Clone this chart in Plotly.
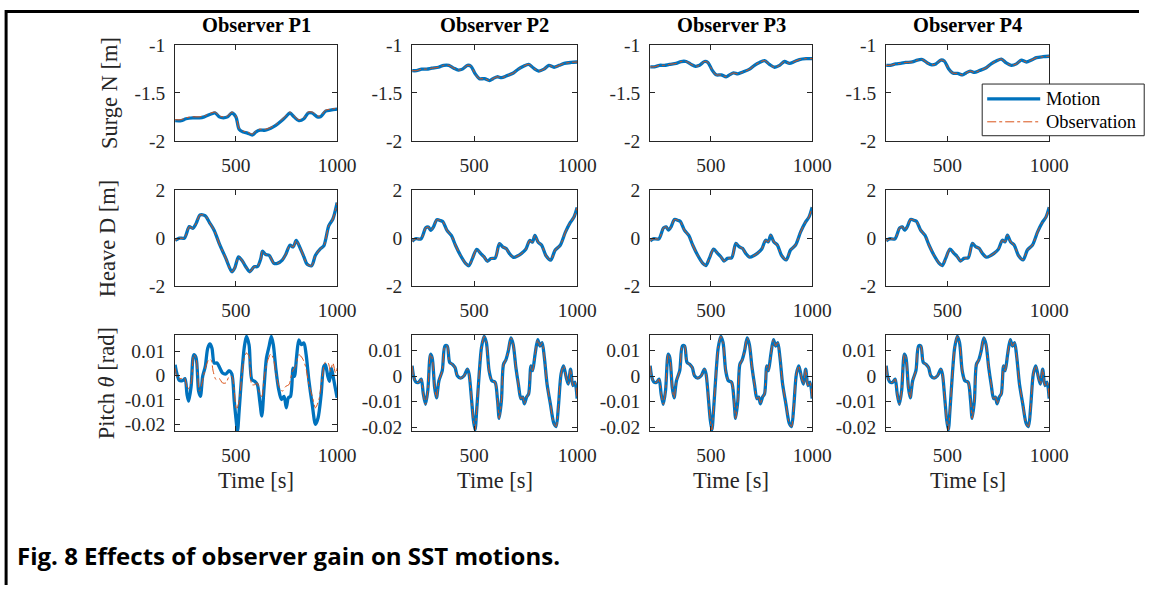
import plotly.graph_objects as go

# The photographed page maps figure pixels to picture pixels as
#   picture_x = OX + SX * fig_x,   picture_y = OY + SY * fig_y
# so every position below is given in picture (reference) pixels and converted.
SX, SY, OX, OY = 0.9835, 0.9707, 0.9, 6.5
W, H = 1158, 596
FS = 1 / 0.977  # font compensation for the page scaling


def px(sx):
    return ((sx - OX) / SX) / W


def py(sy):
    return 1 - ((sy - OY) / SY) / H


# ---------------- data ----------------
observers = ["Observer P1", "Observer P2", "Observer P3", "Observer P4"]
row_titles = ["Surge N [m]", "Heave D [m]", "Pitch <i>θ</i> [rad]"]

# Surge, observer P1
t_surge1 = [200, 230, 254, 287, 320, 344, 377, 398, 418, 438, 459, 480, 500, 516, 536, 557, 582,
            598, 618, 631, 647, 672, 697, 721, 746, 767, 787, 811, 836, 857, 877, 902, 918, 943, 967, 1000]
surge1_motion = [-1.79, -1.79, -1.77, -1.76, -1.76, -1.75, -1.72, -1.71, -1.75, -1.76, -1.75, -1.71,
                 -1.75, -1.88, -1.91, -1.92, -1.94, -1.91, -1.89, -1.89, -1.89, -1.87, -1.84, -1.80,
                 -1.75, -1.71, -1.75, -1.79, -1.77, -1.71, -1.71, -1.75, -1.75, -1.69, -1.68, -1.67]
surge1_obs = [-1.78, -1.78, -1.76, -1.75, -1.75, -1.74, -1.71, -1.70, -1.74, -1.75, -1.74, -1.70,
              -1.74, -1.87, -1.90, -1.91, -1.93, -1.90, -1.88, -1.88, -1.88, -1.86, -1.83, -1.79,
              -1.74, -1.70, -1.74, -1.78, -1.76, -1.70, -1.70, -1.74, -1.74, -1.68, -1.67, -1.66]

# Surge, observers P2-P4
t_surge = [200, 221, 246, 271, 295, 328, 353, 378, 402, 424, 444, 468, 485, 506, 526, 551, 575,
           592, 612, 633, 658, 691, 715, 740, 765, 789, 814, 839, 863, 888, 913, 937, 970, 1000]
surge2 = [-1.266, -1.266, -1.25, -1.25, -1.24, -1.23, -1.21, -1.21, -1.24, -1.26, -1.25, -1.21,
          -1.22, -1.30, -1.35, -1.35, -1.37, -1.35, -1.33, -1.34, -1.32, -1.29, -1.25, -1.22,
          -1.20, -1.24, -1.27, -1.25, -1.21, -1.23, -1.21, -1.19, -1.18, -1.175]
surge3 = [-1.226, -1.226, -1.21, -1.21, -1.20, -1.19, -1.17, -1.17, -1.20, -1.22, -1.21, -1.17,
          -1.18, -1.26, -1.31, -1.31, -1.33, -1.31, -1.29, -1.30, -1.28, -1.25, -1.21, -1.18,
          -1.16, -1.20, -1.23, -1.21, -1.17, -1.19, -1.17, -1.15, -1.14, -1.14]
surge4 = [-1.21, -1.21, -1.195, -1.19, -1.18, -1.175, -1.155, -1.15, -1.185, -1.205, -1.195, -1.155,
          -1.165, -1.245, -1.29, -1.295, -1.31, -1.29, -1.27, -1.285, -1.265, -1.235, -1.195, -1.165,
          -1.145, -1.185, -1.21, -1.195, -1.155, -1.175, -1.155, -1.13, -1.12, -1.115]

# Heave, observer P1
t_heave1 = [200, 221, 246, 270, 287, 303, 323, 348, 369, 393, 418, 451, 480, 495, 513, 533, 549, 569,
            590, 606, 623, 631, 647, 664, 688, 705, 729, 746, 767, 783, 798, 815, 836, 852, 874, 893,
            918, 934, 959, 979, 1000]
heave1 = [-0.10, 0.00, 0.00, 0.48, 0.41, 0.60, 0.97, 0.94, 0.66, 0.32, -0.23, -0.86, -1.41, -1.24,
          -0.79, -0.97, -1.20, -1.41, -1.20, -1.20, -0.86, -0.55, -0.69, -0.72, -1.06, -1.06, -0.92,
          -0.69, -0.30, -0.37, -0.10, -0.37, -0.79, -1.10, -1.16, -0.72, -0.44, -0.33, 0.52, 0.80, 1.49]

# Heave, observers P2-P4
t_heave = [200, 216, 243, 266, 279, 290, 303, 320, 339, 349, 369, 390, 410, 434, 459, 475, 492, 513,
           533, 549, 565, 582, 603, 623, 639, 656, 672, 692, 713, 729, 751, 770, 783, 795, 811, 828,
           849, 872, 893, 918, 943, 967, 984, 1000]
heave2 = [-0.14, -0.03, -0.03, 0.43, 0.46, 0.32, 0.46, 0.77, 0.73, 0.69, 0.32, 0.11, -0.30, -0.72,
          -1.06, -1.16, -0.86, -0.47, -0.65, -0.79, -0.97, -0.86, -0.83, -0.23, -0.37, -0.44, -0.65,
          -0.81, -0.74, -0.65, -0.47, -0.10, -0.17, 0.11, -0.17, -0.30, -0.74, -0.92, -0.51, -0.30,
          0.25, 0.66, 0.87, 1.28]
heave3 = [-0.12, -0.03, -0.03, 0.43, 0.47, 0.33, 0.47, 0.78, 0.74, 0.70, 0.33, 0.12, -0.29, -0.71,
          -1.05, -1.15, -0.85, -0.46, -0.64, -0.78, -0.96, -0.85, -0.82, -0.22, -0.36, -0.43, -0.64,
          -0.80, -0.73, -0.64, -0.46, -0.09, -0.16, 0.12, -0.16, -0.29, -0.73, -0.91, -0.50, -0.29,
          0.26, 0.67, 0.88, 1.30]
heave4 = heave3

# Pitch, observer P1
t_pitch1 = [200, 208, 221, 238, 249, 259, 267, 279, 292, 303, 316, 325, 336, 349, 361, 372, 382, 393,
            407, 421, 434, 451, 467, 480, 492, 500, 508, 516, 529, 541, 552, 565, 579, 593, 606, 618,
            628, 639, 651, 664, 675, 685, 697, 710, 725, 738, 749, 759, 770, 782, 790, 800, 811, 823,
            836, 847, 861, 877, 893, 906, 921, 934, 942, 954, 962, 972, 983, 1000]
pitch1_motion = [0.0045, 0.0011, -0.0020, -0.0020, -0.0012, -0.0078, -0.0105, -0.0044, 0.0086,
                 0.0075, -0.0064, -0.0085, -0.0003, 0.0038, 0.0113, 0.0130, 0.0113, 0.0052, 0.0052,
                 0.0031, 0.0011, 0.0007, 0.0020, 0.0007, -0.0105, -0.0173, -0.0228, -0.0146, 0.0004,
                 0.0113, 0.0161, 0.0127, -0.0016, -0.0023, -0.0037, -0.0105, -0.0166, -0.0050, 0.0072,
                 0.0120, 0.0161, 0.0127, 0.0031, -0.0050, -0.0098, -0.0085, -0.0132, -0.0091, -0.0085,
                 0.0031, -0.0003, 0.0079, 0.0147, 0.0127, 0.0134, 0.0086, -0.0023, -0.0119, -0.0200,
                 -0.0173, -0.0078, 0.0038, 0.0045, -0.0003, -0.0023, 0.0031, -0.0016, -0.0091]
t_pitch1_obs = [200, 213, 229, 246, 262, 279, 292, 303, 320, 333, 349, 366, 377, 388, 402, 418, 434,
                451, 467, 480, 492, 503, 516, 529, 541, 552, 565, 579, 593, 606, 618, 628, 639, 656,
                672, 685, 697, 713, 729, 746, 762, 779, 795, 811, 828, 844, 861, 877, 893, 910, 926,
                942, 956, 967, 979, 992, 1000]
pitch1_obs = [0.0031, -0.0012, -0.0012, -0.0010, -0.0057, -0.0030, 0.0086, 0.0072, -0.0064, -0.0030,
              0.0031, 0.0065, 0.0065, 0.0018, -0.0016, -0.0012, -0.0030, -0.0030, -0.0003, -0.0003,
              -0.0064, -0.0139, -0.0105, -0.0003, 0.0072, 0.0093, 0.0079, -0.0037, -0.0037, -0.0030,
              -0.0078, -0.0085, -0.0010, 0.0059, 0.0089, 0.0072, 0.0011, -0.0044, -0.0064, -0.0044,
              -0.0037, 0.0018, 0.0038, 0.0086, 0.0072, 0.0038, -0.0037, -0.0085, -0.0132, -0.0098,
              -0.0010, 0.0056, 0.0052, 0.0018, 0.0052, 0.0011, 0.0031]

# Pitch, observers P2-P4
t_pitch = [200, 208, 219, 232, 244, 254, 265, 276, 289, 297, 309, 318, 330, 346, 359, 370, 382, 395,
           408, 419, 435, 452, 468, 476, 487, 497, 505, 513, 525, 536, 549, 560, 573, 586, 602, 614,
           622, 633, 643, 654, 666, 679, 690, 703, 716, 727, 736, 744, 755, 765, 776, 784, 796, 809,
           820, 830, 841, 854, 870, 887, 898, 909, 922, 934, 947, 957, 968, 979, 989, 1000]
pitch2 = [0.0040, -0.0005, -0.0024, -0.0024, -0.0012, -0.0069, -0.0110, -0.0056, 0.0085, 0.0072,
          -0.0044, -0.0085, -0.0018, 0.0021, 0.0117, 0.0117, 0.0053, 0.0046, 0.0033, 0.0001, -0.0008,
          0.0001, 0.0027, 0.0008, -0.0082, -0.0172, -0.0210, -0.0133, 0.0008, 0.0110, 0.0155, 0.0130,
          0.0021, -0.0018, -0.0024, -0.0095, -0.0165, -0.0095, 0.0046, 0.0062, 0.0097, 0.0149, 0.0123,
          0.0033, -0.0037, -0.0088, -0.0082, -0.0108, -0.0082, -0.0069, 0.0040, 0.0021, 0.0085, 0.0142,
          0.0117, 0.0130, 0.0072, -0.0031, -0.0108, -0.0185, -0.0197, -0.0120, 0.0008, 0.0040, -0.0005,
          -0.0031, 0.0027, -0.0037, -0.0024, -0.0088]
pitch3 = pitch2
pitch4 = pitch2

x_ticks = [500, 1000]
surge_ticks = [-2, -1.5, -1]
surge_ticktext = ["-2", "-1.5", "-1"]
heave_ticks = [-2, 0, 2]
heave_ticktext = ["-2", "0", "2"]
pitch_ticks = [-0.02, -0.01, 0, 0.01]
pitch_ticktext = ["-0.02", "-0.01", "0", "0.01"]
pitch_ranges = [[-0.0227, 0.0169], [-0.0214, 0.0162], [-0.0214, 0.0162], [-0.0214, 0.0162]]

# ---------------- layout geometry (reference picture pixels) ----------------
col_px = [(176, 338), (413, 578), (651, 813), (887, 1050)]
row_px = [(42, 138), (188, 284), (333, 430)]

BLUE = "#0072BD"
ORANGE = "#D95319"
AX = "#262626"
SERIF = "Liberation Serif"

fig = go.Figure()

series = [
    [(t_surge1, surge1_motion, t_surge1, surge1_obs),
     (t_surge, surge2, t_surge, surge2),
     (t_surge, surge3, t_surge, surge3),
     (t_surge, surge4, t_surge, surge4)],
    [(t_heave1, heave1, t_heave1, heave1),
     (t_heave, heave2, t_heave, heave2),
     (t_heave, heave3, t_heave, heave3),
     (t_heave, heave4, t_heave, heave4)],
    [(t_pitch1, pitch1_motion, t_pitch1_obs, pitch1_obs),
     (t_pitch, pitch2, t_pitch, pitch2),
     (t_pitch, pitch3, t_pitch, pitch3),
     (t_pitch, pitch4, t_pitch, pitch4)],
]

layout_axes = {}
k = 0
for r in range(3):
    for c in range(4):
        k += 1
        xa = "x" if k == 1 else f"x{k}"
        ya = "y" if k == 1 else f"y{k}"
        tm, ym, to, yo = series[r][c]
        fig.add_trace(go.Scatter(x=tm, y=ym, mode="lines", xaxis=xa, yaxis=ya,
                                 line=dict(color=BLUE, width=3.3, shape="spline", smoothing=0.8),
                                 showlegend=False, name="Motion"))
        fig.add_trace(go.Scatter(x=to, y=yo, mode="lines", xaxis=xa, yaxis=ya,
                                 line=dict(color=ORANGE, width=1, dash="dashdot", shape="spline",
                                           smoothing=0.8),
                                 showlegend=False, name="Observation"))
        x0, x1 = col_px[c]
        y0, y1 = row_px[r]
        common = dict(showline=True, linecolor=AX, linewidth=1, mirror="ticks", ticks="inside",
                      ticklen=5, tickcolor=AX, showgrid=False, zeroline=False,
                      tickfont=dict(family=SERIF, size=19 * FS, color=AX))
        layout_axes["xaxis" if k == 1 else f"xaxis{k}"] = dict(
            domain=[px(x0), px(x1)], anchor=ya, range=[200, 1000],
            tickvals=x_ticks, ticktext=[str(v) for v in x_ticks], ticklabelstandoff=7, **common)
        if r == 0:
            yr, tv, tt = [-2, -1], surge_ticks, surge_ticktext
        elif r == 1:
            yr, tv, tt = [-2, 2], heave_ticks, heave_ticktext
        else:
            yr, tv, tt = pitch_ranges[c], pitch_ticks, pitch_ticktext
        layout_axes["yaxis" if k == 1 else f"yaxis{k}"] = dict(
            domain=[py(y1), py(y0)], anchor=xa, range=yr,
            tickvals=tv, ticktext=tt, ticklabelstandoff=5, **common)

fig.update_layout(**layout_axes)

annotations = []
for c, name in enumerate(observers):
    cx = (col_px[c][0] + col_px[c][1]) / 2
    annotations.append(dict(x=px(cx), y=py(22), xref="paper", yref="paper",
                            text=f"<b>{name}</b>", showarrow=False,
                            font=dict(family=SERIF, size=20 * FS, color="black"),
                            xanchor="center", yanchor="middle"))
    annotations.append(dict(x=px(cx), y=py(480), xref="paper", yref="paper",
                            text="Time [s]", showarrow=False,
                            font=dict(family=SERIF, size=22 * FS, color=AX),
                            xanchor="center", yanchor="middle"))
row_label_pos = [(111, 90), (108, 237), (107, 382)]
for r, lab in enumerate(row_titles):
    lx, ly = row_label_pos[r]
    annotations.append(dict(x=px(lx), y=py(ly), xref="paper", yref="paper",
                            text=lab, showarrow=False, textangle=-90,
                            font=dict(family=SERIF, size=22 * FS, color=AX),
                            xanchor="center", yanchor="middle"))

leg_x0, leg_x1, leg_y0, leg_y1 = 983, 1145, 81, 133
shapes = [
    dict(type="rect", xref="paper", yref="paper", x0=px(leg_x0), x1=px(leg_x1),
         y0=py(leg_y1), y1=py(leg_y0), line=dict(color=AX, width=1),
         fillcolor="white", layer="above"),
    dict(type="line", xref="paper", yref="paper", x0=px(988), x1=px(1041),
         y0=py(96), y1=py(96), line=dict(color=BLUE, width=3.3), layer="above"),
    dict(type="line", xref="paper", yref="paper", x0=px(988), x1=px(1041),
         y0=py(119), y1=py(119), line=dict(color=ORANGE, width=1, dash="dashdot"),
         layer="above"),
    # page frame (top and left rules)
    dict(type="line", xref="paper", yref="paper", x0=px(6), x1=1,
         y0=1 - 1.5 / H, y1=1 - 1.5 / H, line=dict(color="black", width=3)),
    dict(type="line", xref="paper", yref="paper", x0=px(7), x1=px(7),
         y0=0, y1=1, line=dict(color="black", width=3)),
]
annotations.append(dict(x=px(1045), y=py(96), xref="paper", yref="paper", text="Motion",
                        showarrow=False, xanchor="left", yanchor="middle",
                        font=dict(family=SERIF, size=18 * FS, color="black")))
annotations.append(dict(x=px(1045), y=py(119), xref="paper", yref="paper",
                        text="Observation", showarrow=False, xanchor="left", yanchor="middle",
                        font=dict(family=SERIF, size=18 * FS, color="black")))

annotations.append(dict(x=px(16), y=py(555), xref="paper", yref="paper",
                        text="<b>Fig. 8 Effects of observer gain on SST motions.</b>",
                        showarrow=False, xanchor="left", yanchor="middle",
                        font=dict(family="Open Sans", size=24, color="black")))

fig.update_layout(width=W, height=H, margin=dict(l=0, r=0, t=0, b=0),
                  paper_bgcolor="white", plot_bgcolor="white",
                  annotations=annotations, shapes=shapes, showlegend=False)

fig.write_html("out.html")
